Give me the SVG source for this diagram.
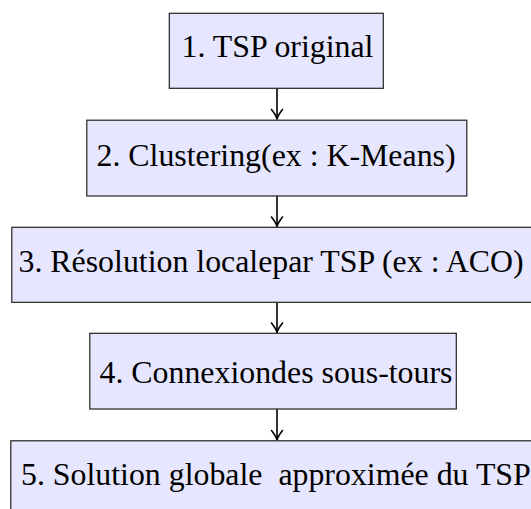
<svg xmlns="http://www.w3.org/2000/svg" width="531" height="509" viewBox="0 0 531 509">
  <style>
    .box { fill: #E6E6FF; stroke: #222; stroke-width: 1.2; }
    .lbl { font-family: "Liberation Serif", "DejaVu Serif", "Times New Roman", serif; font-size: 31.85px; fill: #000; white-space: pre; }
    .edge { fill: none; stroke: #000; stroke-width: 1.6; }
    .head { fill: none; stroke: #000; stroke-width: 1.6; stroke-linecap: round; stroke-linejoin: round; }
  </style>
  <defs>
    <marker id="tip" viewBox="-11 -7 13 14" refX="0" refY="0" markerWidth="13" markerHeight="14" markerUnits="userSpaceOnUse" orient="auto">
      <path class="head" d="M -9.5,-5.5 Q -3.5,-0.8 0,0 Q -3.5,0.8 -9.5,5.5"/>
    </marker>
  </defs>

  <g id="connectors">
    <line class="edge" x1="277" y1="88.5" x2="277" y2="119" marker-end="url(#tip)"/>
    <line class="edge" x1="277" y1="196" x2="277" y2="226.5" marker-end="url(#tip)"/>
    <line class="edge" x1="277" y1="302.5" x2="277" y2="332.5" marker-end="url(#tip)"/>
    <line class="edge" x1="277" y1="409" x2="277" y2="440" marker-end="url(#tip)"/>
  </g>

  <g id="n1">
    <rect class="box" x="169.3" y="13.3" width="214" height="75"/>
    <text class="lbl" x="181.5" y="56.5">1. TSP original</text>
  </g>
  <g id="n2">
    <rect class="box" x="86.8" y="120.2" width="380" height="75.8"/>
    <text class="lbl" x="96.5" y="165.6">2. Clustering(ex : K-Means)</text>
  </g>
  <g id="n3">
    <rect class="box" x="11.8" y="227.3" width="522" height="75"/>
    <text class="lbl" x="18.5" y="271.7">3. Résolution localepar TSP (ex : ACO)</text>
  </g>
  <g id="n4">
    <rect class="box" x="89.8" y="333.3" width="366.5" height="75.7"/>
    <text class="lbl" x="99.5" y="383">4. Connexiondes sous-tours</text>
  </g>
  <g id="n5">
    <rect class="box" x="10.8" y="440.8" width="530" height="76"/>
    <text class="lbl" x="21" y="485" xml:space="preserve">5. Solution globale  approximée du TSP</text>
  </g>
</svg>
